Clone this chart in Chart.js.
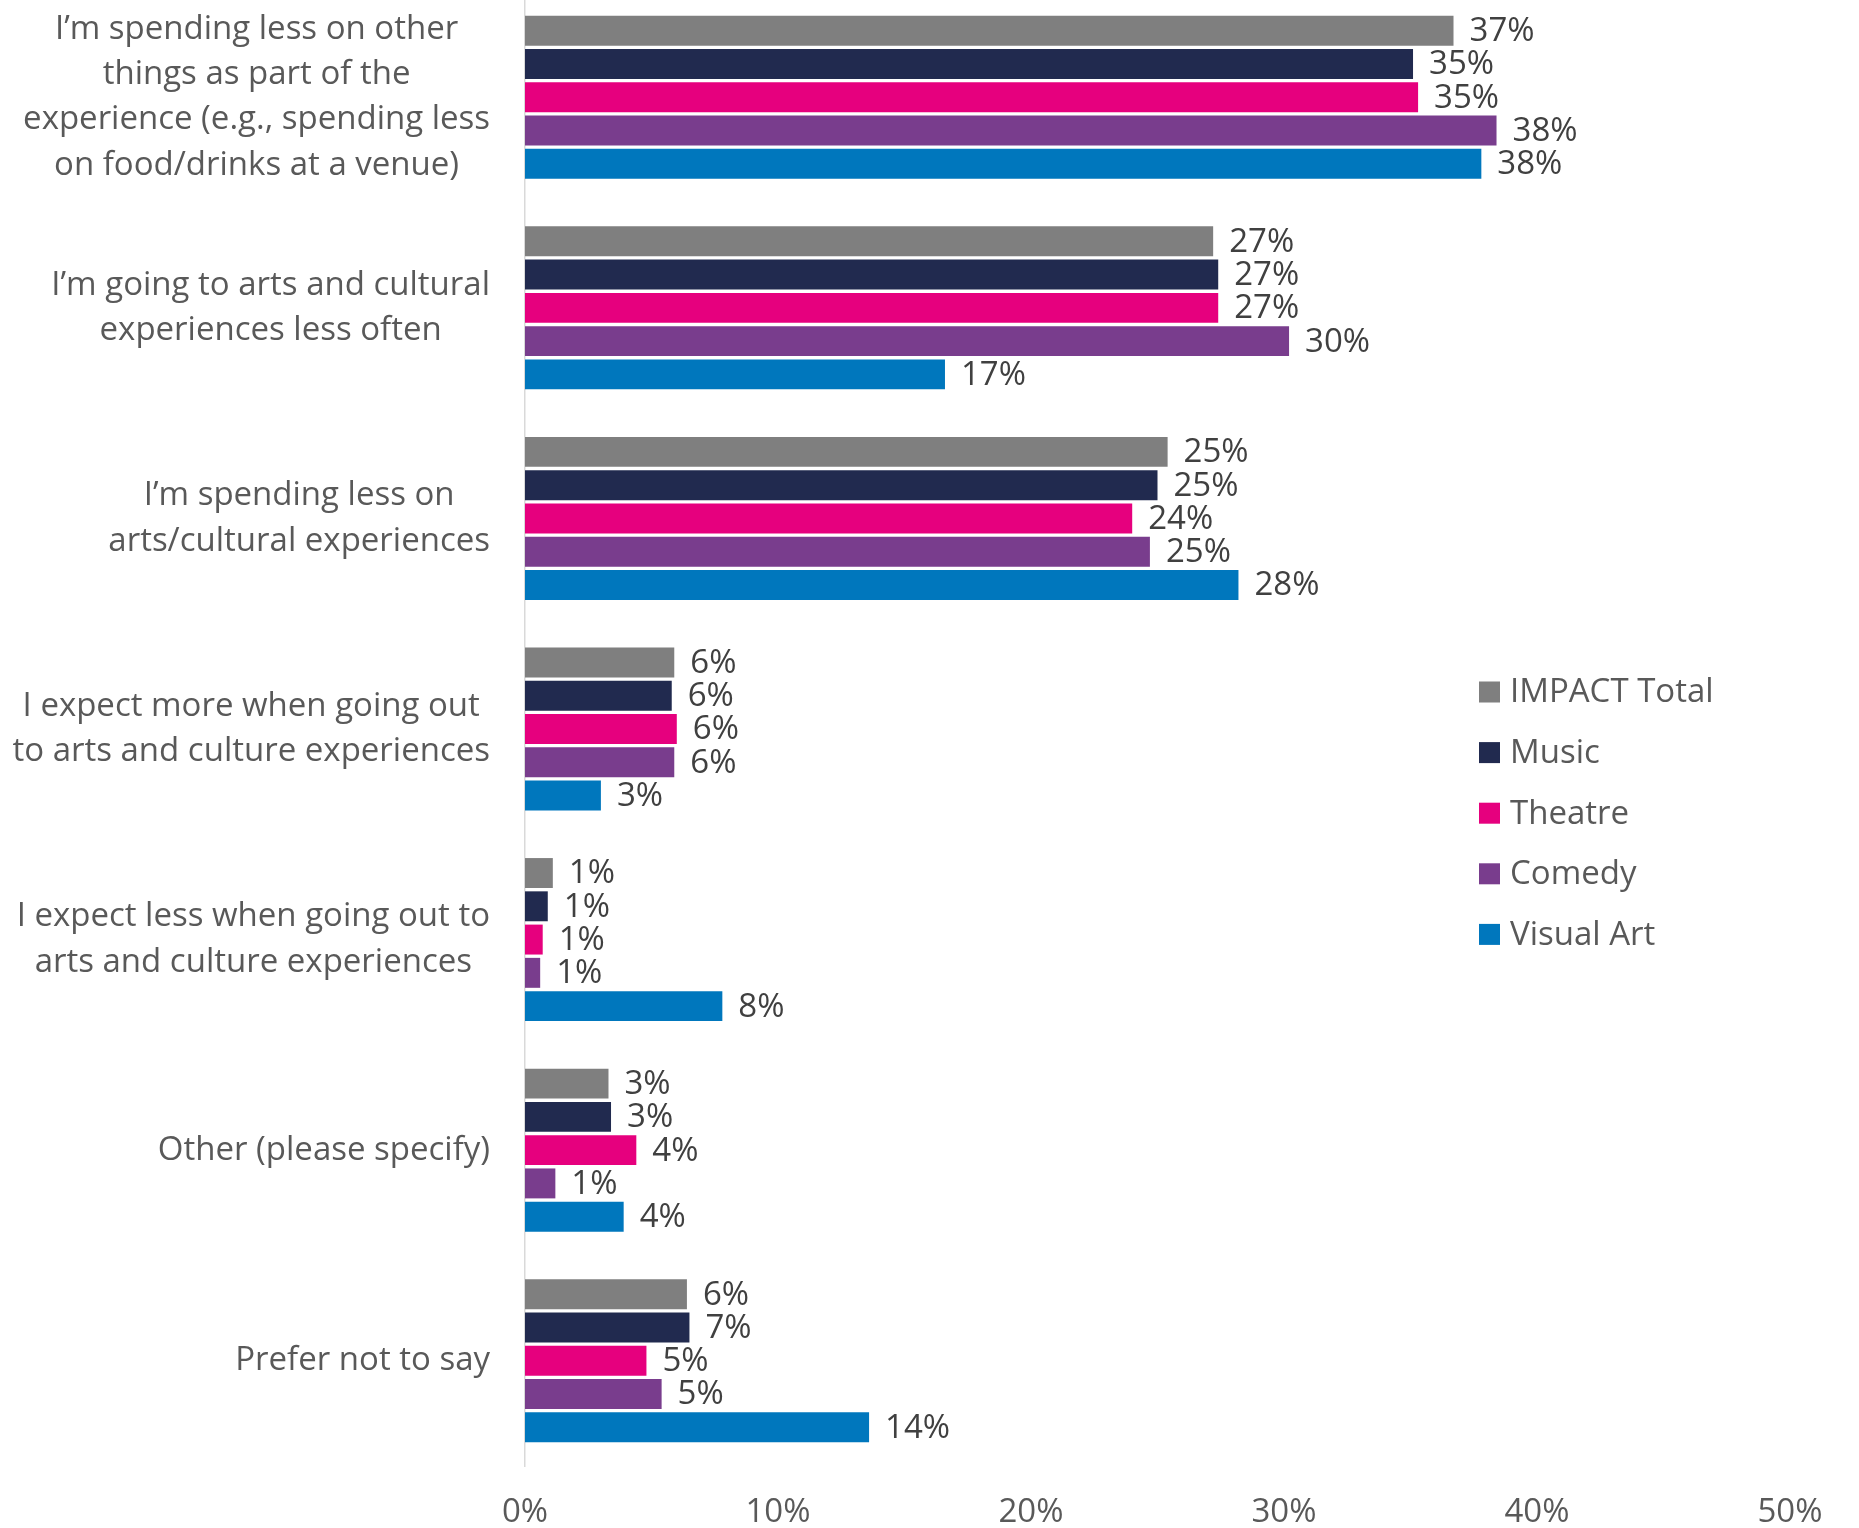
<!DOCTYPE html>
<html>
<head>
<meta charset="utf-8">
<script src="https://cdn.jsdelivr.net/npm/chart.js@4.4.1/dist/chart.umd.min.js"></script>
<style>
  html, body { margin: 0; padding: 0; background: #ffffff; overflow: hidden; }
  #wrap { position: absolute; left: 0; top: -8px; width: 1859px; height: 1536px; }
</style>
</head>
<body>
<div id="wrap"><canvas id="chart" width="1859" height="1536"></canvas></div>
<script>
// Survey answers (one label per category, split into display lines)
const categories = [
  ["I\u2019m spending less on other", "things as part of the", "experience (e.g., spending less", "on food/drinks at a venue)"],
  ["I\u2019m going to arts and cultural", "experiences less often"],
  ["I\u2019m spending less on", "arts/cultural experiences"],
  ["I expect more when going out", "to arts and culture experiences"],
  ["I expect less when going out to", "arts and culture experiences"],
  ["Other (please specify)"],
  ["Prefer not to say"]
];

// Share of respondents (%) per audience segment
const impactTotal = [36.7, 27.2, 25.4, 5.9, 1.1, 3.3, 6.4];
const music       = [35.1, 27.4, 25.0, 5.8, 0.9, 3.4, 6.5];
const theatre     = [35.3, 27.4, 24.0, 6.0, 0.7, 4.4, 4.8];
const comedy      = [38.4, 30.2, 24.7, 5.9, 0.6, 1.2, 5.4];
const visualArt   = [37.8, 16.6, 28.2, 3.0, 7.8, 3.9, 13.6];

const seriesNames = ["IMPACT Total", "Music", "Theatre", "Comedy", "Visual Art"];
const seriesColors = ["#7f7f7f", "#212a4f", "#e6007e", "#793d8d", "#0077bd"];

// Axis ticks: 0% to 50% in steps of 10
const axisMax = 50;
const axisStep = 10;

const FONT = "'Open Sans', 'Noto Sans', sans-serif";
const TEXT_SIZE = 33;
const LINE_GAP = 45.4;

const seriesValues = [impactTotal, music, theatre, comedy, visualArt];

// Category labels: each block sits against the axis, its lines centred on one another
const categoryLabels = {
  id: 'categoryLabels',
  afterDraw(chart) {
    const ctx = chart.ctx;
    const yScale = chart.scales.y;
    const rightEdge = yScale.right - 35;
    ctx.save();
    ctx.font = TEXT_SIZE + "px " + FONT;
    ctx.fillStyle = "#595959";
    ctx.textAlign = "center";
    ctx.textBaseline = "middle";
    chart.data.labels.forEach((lines, i) => {
      const widest = Math.max(...lines.map(t => ctx.measureText(t).width));
      const cx = rightEdge - widest / 2;
      const cy = yScale.getPixelForValue(i);
      lines.forEach((t, k) => {
        ctx.fillText(t, cx, cy + (k - (lines.length - 1) / 2) * LINE_GAP);
      });
    });
    ctx.restore();
  }
};

// Value labels at the end of each bar
const valueLabels = {
  id: 'valueLabels',
  afterDatasetsDraw(chart) {
    const ctx = chart.ctx;
    ctx.save();
    ctx.font = TEXT_SIZE + "px " + FONT;
    ctx.fillStyle = "#404040";
    ctx.textAlign = "left";
    ctx.textBaseline = "middle";
    chart.data.datasets.forEach((ds, i) => {
      const meta = chart.getDatasetMeta(i);
      meta.data.forEach((bar, j) => {
        const v = ds.data[j];
        ctx.fillText(Math.round(v) + "%", bar.x + 16, bar.y + 1);
      });
    });
    ctx.restore();
  }
};

// Legend drawn as a vertical list inside the plot area
const sideLegend = {
  id: 'sideLegend',
  afterDraw(chart) {
    const ctx = chart.ctx;
    const x0 = 1479, top = 700, gap = 60.6, box = 21;
    ctx.save();
    ctx.font = TEXT_SIZE + "px " + FONT;
    ctx.textAlign = "left";
    ctx.textBaseline = "middle";
    chart.data.datasets.forEach((ds, i) => {
      const cy = top + i * gap;
      ctx.fillStyle = ds.backgroundColor;
      ctx.fillRect(x0, cy - box / 2, box, box);
      ctx.fillStyle = "#595959";
      ctx.fillText(ds.label, x0 + 31, cy + 1);
    });
    ctx.restore();
  }
};

new Chart(document.getElementById('chart'), {
  type: 'bar',
  data: {
    labels: categories,
    datasets: seriesNames.map((name, i) => ({
      label: name,
      data: seriesValues[i],
      backgroundColor: seriesColors[i],
      borderWidth: 0,
      categoryPercentage: 0.79,
      barPercentage: 0.9
    }))
  },
  options: {
    indexAxis: 'y',
    responsive: false,
    animation: false,
    devicePixelRatio: 1,
    layout: { padding: { left: 0, right: 69, top: 0, bottom: 0 } },
    plugins: {
      legend: { display: false },
      tooltip: { enabled: false }
    },
    scales: {
      x: {
        min: 0,
        max: axisMax,
        grid: { display: false, drawTicks: false },
        border: { display: false },
        ticks: {
          stepSize: axisStep,
          padding: 27,
          color: "#595959",
          font: { family: FONT, size: TEXT_SIZE },
          callback: v => v + "%"
        },
        afterFit(scale) {
          scale.height = 62;
          scale.paddingLeft = 0;
          scale.paddingRight = 0;
        }
      },
      y: {
        grid: { display: false, drawTicks: false },
        border: { display: true, color: "#d9d9d9", width: 1.5 },
        ticks: { display: false },
        afterFit(scale) {
          scale.width = 525;
          scale.paddingTop = 0;
          scale.paddingBottom = 0;
        }
      }
    }
  },
  plugins: [categoryLabels, valueLabels, sideLegend]
});
</script>
</body>
</html>
